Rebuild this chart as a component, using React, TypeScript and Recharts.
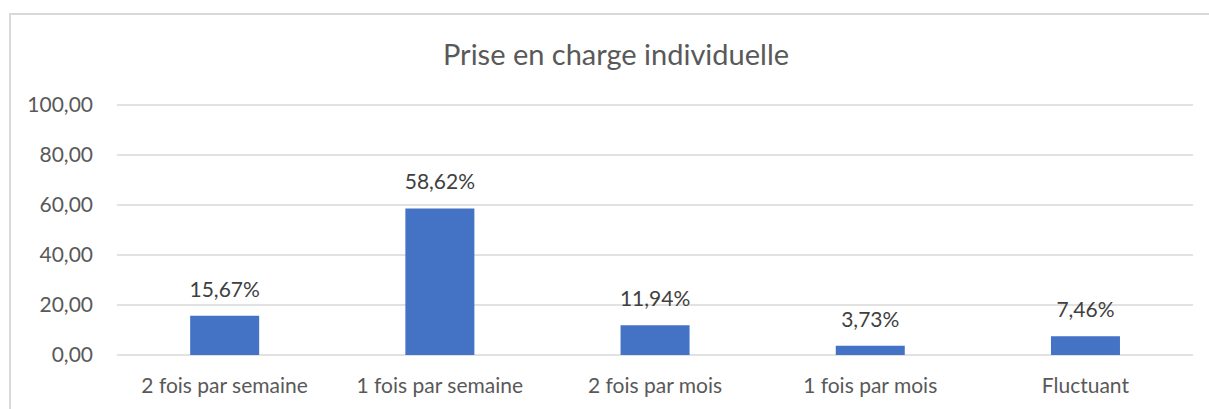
import { Bar, BarChart, CartesianGrid, LabelList, XAxis, YAxis } from 'recharts'

const categories = [
  '2 fois par semaine',
  '1 fois par semaine',
  '2 fois par mois',
  '1 fois par mois',
  'Fluctuant',
]
const percentages = [15.67, 58.62, 11.94, 3.73, 7.46]
const yTicks = [0, 20, 40, 60, 80, 100]

const data = categories.map((name, i) => ({ name, value: percentages[i] }))

const FONT = 'Lato, "Open Sans", sans-serif'
const GREY = '#595959'

const fmtAxis = (v: number) => v.toFixed(2).replace('.', ',')
const fmtLabel = (v: number) => `${v.toFixed(2).replace('.', ',')}%`

export default function App() {
  return (
    <div
      style={{
        position: 'absolute',
        left: 0,
        top: 0,
        width: 1209,
        height: 409,
        overflow: 'hidden',
        background: '#fff',
        fontFamily: FONT,
      }}
    >
      {/* chart frame, runs off the right and bottom edges */}
      <div
        style={{
          position: 'absolute',
          left: 9,
          top: 13,
          width: 1220,
          height: 420,
          border: '2px solid #d9d9d9',
          boxSizing: 'border-box',
        }}
      />
      <div
        style={{
          position: 'absolute',
          left: 0,
          top: 36,
          width: 1232,
          textAlign: 'center',
          fontSize: 29,
          color: GREY,
          lineHeight: '36px',
        }}
      >
        Prise en charge individuelle
      </div>
      <div style={{ position: 'absolute', left: 0, top: 0 }}>
        <BarChart
          width={1209}
          height={409}
          data={data}
          margin={{ top: 105, right: 16, bottom: 0, left: 0 }}
          barCategoryGap="34%"
        >
          <CartesianGrid vertical={false} stroke="#d9d9d9" strokeWidth={1.5} />
          <XAxis
            dataKey="name"
            height={54}
            axisLine={false}
            tickLine={false}
            tickMargin={17}
            tick={{ fill: GREY, fontSize: 21, fontFamily: FONT }}
            interval={0}
          />
          <YAxis
            width={117}
            domain={[0, 100]}
            ticks={yTicks}
            axisLine={false}
            tickLine={false}
            tickMargin={18}
            tickFormatter={fmtAxis}
            tick={{ fill: GREY, fontSize: 21, fontFamily: FONT }}
          />
          <Bar dataKey="value" fill="#4472c4" isAnimationActive={false}>
            <LabelList
              dataKey="value"
              position="top"
              offset={19}
              formatter={(v: any) => fmtLabel(Number(v))}
              style={{ fill: '#404040', fontSize: 21, fontFamily: FONT }}
            />
          </Bar>
        </BarChart>
      </div>
    </div>
  )
}
